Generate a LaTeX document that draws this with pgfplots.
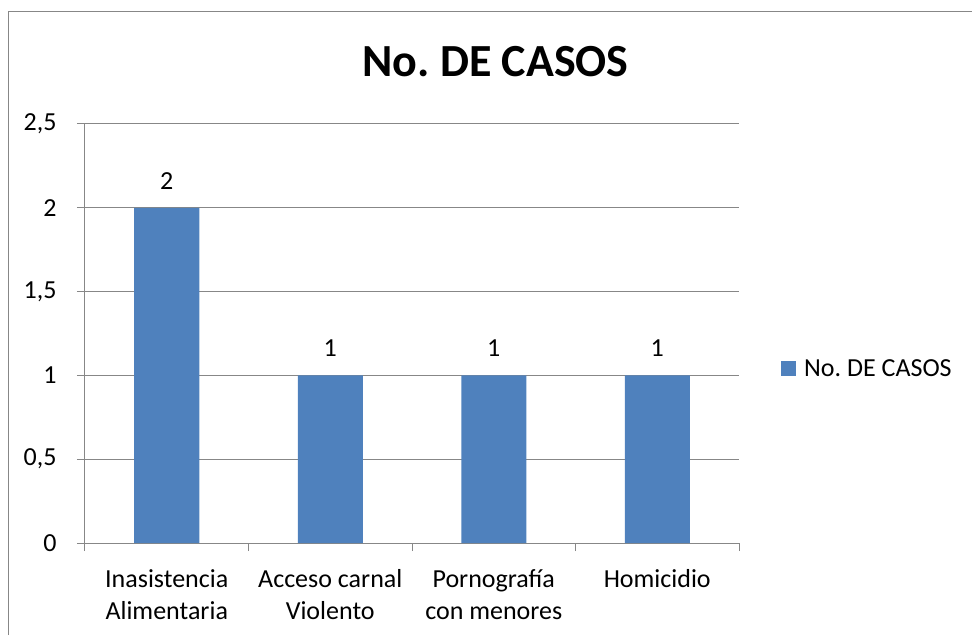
\documentclass[border=0pt]{standalone}
\usepackage{pgfplots}
\pgfplotsset{compat=1.18}
\usepackage{fontspec}
\setmainfont{Carlito}
\definecolor{barblue}{HTML}{4F81BD}
\definecolor{gridgray}{HTML}{878787}
\begin{document}
\begin{tikzpicture}[x=1pt,y=1pt]
\useasboundingbox (0,0) rectangle (972,635);
\draw[gridgray, line width=1.2pt] (8.5,0) -- (8.5,623.5) -- (972,623.5);
\node[font=\bfseries\fontsize{46}{55}\selectfont, anchor=base] at (495.5,558) {No.\ DE CASOS};
\begin{axis}[
  at={(85pt,92pt)}, anchor=south west,
  scale only axis, width=654pt, height=419pt,
  /pgf/number format/assume math mode=true,
  ymin=0, ymax=2.5, xmin=-0.5, xmax=3.5,
  ybar, bar width=65pt,
  axis lines=left, axis line style={-, draw=gridgray, line width=1pt},
  ymajorgrids, grid style={gridgray, line width=1pt},
  ytick={0,0.5,1,1.5,2,2.5},
  yticklabels={0,{0,5},1,{1,5},2,{2,5}},
  xtick={-0.5,0.5,1.5,2.5,3.5},
  xticklabels={{Inasistencia\\Alimentaria},{Acceso carnal\\Violento},{Pornografía\\con menores},Homicidio,{}},
  xticklabel style={align=center, anchor=north, xshift=81.75pt, yshift=-15pt},
  yticklabel style={anchor=east, xshift=-17pt},
  tick align=outside, major tick length=8pt, tick style={gridgray, line width=1pt},
  ticklabel style={font=\fontsize{26}{32}\selectfont},
  nodes near coords,
  nodes near coords style={font=\fontsize{26}{32}\selectfont, anchor=south, yshift=15pt, text=black},
  legend style={at={(1.0642,0.4165)}, anchor=west, draw=none, fill=none,
    font=\fontsize{26}{32}\selectfont, inner sep=0pt},
  clip=false,
]
\addplot[fill=barblue, draw=none,
  legend image code/.code={\fill[barblue] (0pt,-7.5pt) rectangle (15pt,7.5pt); \path (21pt,0pt);}]
  coordinates {(0,2) (1,1) (2,1) (3,1)};
\addlegendentry{No.\ DE CASOS}
\end{axis}
\end{tikzpicture}
\end{document}
